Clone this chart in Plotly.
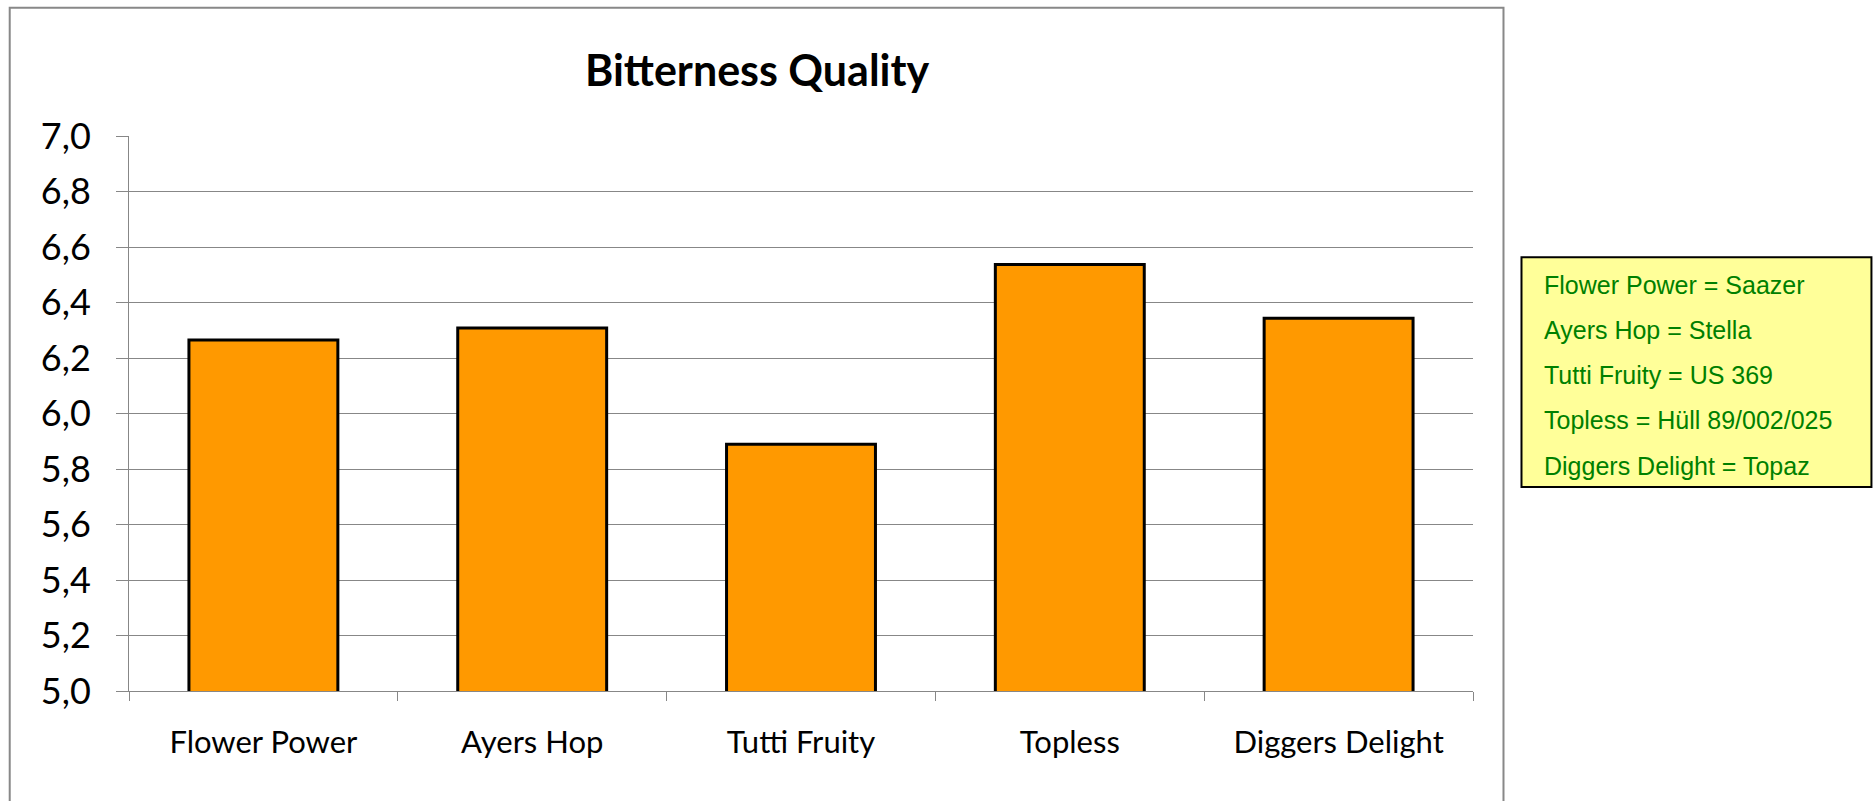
import plotly.graph_objects as go

categories = ["Flower Power", "Ayers Hop", "Tutti Fruity", "Topless", "Diggers Delight"]
values = [6.265, 6.308, 5.889, 6.537, 6.343]
y_ticks = [5.0, 5.2, 5.4, 5.6, 5.8, 6.0, 6.2, 6.4, 6.6, 6.8, 7.0]
y_tick_labels = ["5,0", "5,2", "5,4", "5,6", "5,8", "6,0", "6,2", "6,4", "6,6", "6,8", "7,0"]
legend_lines = [
    "Flower Power = Saazer",
    "Ayers Hop = Stella",
    "Tutti Fruity = US 369",
    "Topless = Hüll 89/002/025",
    "Diggers Delight = Topaz",
]
title = "Bitterness Quality"

W, H = 1874, 801
PL, PR, PT, PB = 129.3, 1473.5, 135.7, 691.0


def px(x):
    return (x - PL) / (PR - PL)


def py(y):
    return (PB - y) / (PB - PT)


fig = go.Figure()
fig.add_trace(go.Bar(
    x=categories, y=values,
    marker=dict(color="#FF9900", line=dict(color="#000000", width=3)),
    width=0.554,
))

GRID = "#878787"

fig.update_layout(
    width=W, height=H,
    margin=dict(l=PL, r=W - PR, t=PT, b=H - PB, autoexpand=False),
    paper_bgcolor="white", plot_bgcolor="white",
    showlegend=False,
    title=dict(text=f"<b>{title}</b>", x=px(757.5), xref="paper", xanchor="center",
               y=1 - 71 / H, yanchor="middle", yref="container",
               font=dict(family="Lato", size=43, color="#000000")),
    xaxis=dict(
        type="category", tickson="boundaries", ticks="outside", ticklen=9,
        tickcolor=GRID, tickwidth=1, showgrid=False,
        showline=True, linecolor=GRID, linewidth=1,
        tickfont=dict(family="Lato", size=31, color="#000000"),
        ticklabelstandoff=24, range=[-0.5, 4.5],
    ),
    yaxis=dict(
        range=[5.0, 7.0], tickvals=y_ticks, ticktext=y_tick_labels,
        ticks="outside", ticklen=12, tickcolor=GRID, tickwidth=1,
        showgrid=True, gridcolor=GRID, gridwidth=1,
        showline=True, linecolor=GRID, linewidth=1, zeroline=False,
        tickfont=dict(family="Lato", size=36, color="#000000"),
        ticklabelstandoff=18,
    ),
    font=dict(family="Lato"),
)

# Outer chart frame (bottom edge lies beyond the visible area)
fig.add_shape(type="rect", xref="paper", yref="paper",
              x0=px(10), x1=px(1504), y0=py(830), y1=py(7.5),
              line=dict(color="#888888", width=2), fillcolor="rgba(0,0,0,0)", layer="below")

# Yellow text box
fig.add_shape(type="rect", xref="paper", yref="paper",
              x0=px(1522), x1=px(1872), y0=py(487), y1=py(257),
              line=dict(color="#000000", width=2), fillcolor="#FFFF99")

line_centers = [284.3, 329.6, 374.9, 420.2, 465.5]
for txt, cy in zip(legend_lines, line_centers):
    fig.add_annotation(text=txt, xref="paper", yref="paper",
                       x=px(1543), y=py(cy), xanchor="left", yanchor="middle",
                       showarrow=False,
                       font=dict(family="Liberation Sans", size=25, color="#008000"))

fig.write_html("out.html")
